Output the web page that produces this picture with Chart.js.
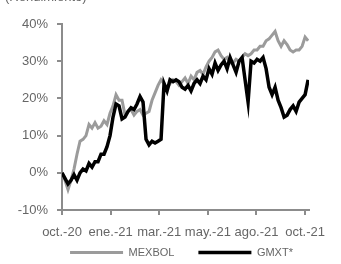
<!DOCTYPE html>
<html>
<head>
<meta charset="utf-8">
<script src="https://cdn.jsdelivr.net/npm/chart.js@4.4.1/dist/chart.umd.min.js"></script>
<style>
  html, body { margin: 0; padding: 0; background: #fff; }
  #wrap { width: 341px; height: 264px; }
</style>
</head>
<body>
<div id="wrap"><canvas id="perfChart" width="341" height="264"></canvas></div>
<script>
// fechas del eje x (sesiones espaciadas, de oct-20 a oct-21)
const tickLabels = ['oct.-20', 'ene.-21', 'mar.-21', 'may.-21', 'ago.-21', 'oct.-21'];
const tickPos = [0, 16.2, 32.4, 48.6, 64.8, 81];

// rendimiento acumulado, %
const mexbol = [0, -2, -4.5, -2, 1, 5, 8.5, 9, 10, 13, 12, 13.5, 12, 12.5, 14, 13, 16, 18, 21, 19.5,
  19.5, 15.5, 16.5, 17, 15.5, 16.5, 17, 15.5, 16, 16.5, 19.5, 21.5, 23.5, 25, 24, 22.5, 24, 25, 24.5, 23.5,
  24.5, 25.5, 24, 26, 25, 27, 27.5, 26.5, 28.5, 30, 31, 32.5, 33, 31.5, 30.5, 31, 29.5, 29.5, 30.5, 30,
  31, 32, 31.5, 32, 33, 33, 34, 34, 35.5, 36, 37, 38, 35.5, 34, 35.5, 34.5, 33, 32.5, 33, 33,
  34, 36.5, 35.5];

const gmxt = [0, -1.5, -3, -2, -0.5, -2, 0, 1, 0.5, 2.5, 1.5, 3, 3, 5, 5, 7, 10, 15, 18.5, 18,
  14.5, 15, 16.5, 17.5, 17, 18.5, 20.5, 19, 9, 7.5, 8.5, 8, 8.5, 9, 24, 22, 25, 24.5, 25, 24.5,
  23, 22.5, 23.5, 22, 24, 25, 24, 26, 25, 28, 26.5, 29.5, 27.5, 29, 30, 28, 31, 29, 27, 30,
  31, 25, 19, 30, 29.5, 30.5, 30, 31, 28, 23, 21, 23, 19.5, 17.5, 15, 15.5, 17, 18, 16.5, 19,
  20, 21, 25];

const toPoints = arr => arr.map((v, i) => ({ x: i, y: v }));

const labelColor = '#666666';
const axisColor = '#8c8c8c';
const fontFamily = '"Liberation Sans", Arial, sans-serif';

// subtitulo recortado en la parte superior
const topText = {
  id: 'topText',
  afterDraw(chart) {
    const c = chart.ctx;
    c.save();
    c.font = '13px ' + fontFamily;
    c.fillStyle = labelColor;
    c.textBaseline = 'alphabetic';
    c.fillText('(Rendimiento)', 5, 0.5);
    c.restore();
  }
};

// mueve la leyenda un poco arriba y a la derecha (como en la imagen)
const legendShift = {
  id: 'legendShift',
  afterLayout(chart) {
    const lg = chart.legend;
    lg.left = 27;
    lg.right = 336;
    lg.top = 223;
    lg.bottom = 264;
  }
};

const ctx = document.getElementById('perfChart').getContext('2d');
new Chart(ctx, {
  type: 'line',
  data: {
    datasets: [
      {
        label: 'MEXBOL',
        data: toPoints(mexbol),
        borderColor: '#9b9b9b',
        backgroundColor: '#9b9b9b',
        borderWidth: 3,
        pointRadius: 0,
        tension: 0,
        order: 2
      },
      {
        label: 'GMXT*',
        data: toPoints(gmxt),
        borderColor: '#000000',
        backgroundColor: '#000000',
        borderWidth: 3.5,
        pointRadius: 0,
        tension: 0,
        order: 1
      }
    ]
  },
  options: {
    responsive: false,
    animation: false,
    layout: { padding: { left: 0, right: 32, top: 24, bottom: 0 } },
    scales: {
      x: {
        type: 'linear',
        min: 0,
        max: 82.3,
        afterBuildTicks: scale => { scale.ticks = tickPos.map(v => ({ value: v })); },
        afterFit: scale => { scale.height = 31; },
        border: { color: axisColor, width: 2 },
        grid: { display: true, drawOnChartArea: false, drawTicks: true, tickLength: 5, color: axisColor, lineWidth: 2 },
        ticks: {
          autoSkip: false,
          maxRotation: 0,
          padding: 10,
          color: labelColor,
          font: { family: fontFamily, size: 13 },
          callback: (v, i) => tickLabels[i]
        }
      },
      y: {
        min: -10,
        max: 40,
        afterFit: scale => { scale.width = 62; },
        border: { color: axisColor, width: 2 },
        grid: { display: true, drawOnChartArea: false, drawTicks: true, tickLength: 5, color: axisColor, lineWidth: 2 },
        ticks: {
          stepSize: 10,
          padding: 9,
          color: labelColor,
          font: { family: fontFamily, size: 13 },
          callback: v => v + '%'
        }
      }
    },
    plugins: {
      legend: {
        position: 'bottom',
        maxHeight: 23,
        labels: {
          boxWidth: 53,
          boxHeight: 0,
          padding: 24,
          color: labelColor,
          font: { family: fontFamily, size: 11 },
          sort: (a, b) => a.datasetIndex - b.datasetIndex
        }
      },
      tooltip: { enabled: false }
    }
  },
  plugins: [topText, legendShift]
});
</script>
</body>
</html>
